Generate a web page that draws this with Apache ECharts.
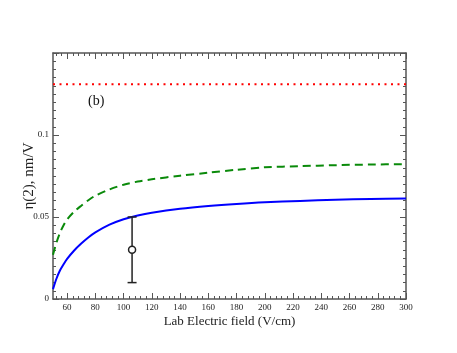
<!DOCTYPE html>
<html>
<head>
<meta charset="utf-8">
<script src="https://cdn.jsdelivr.net/npm/echarts@6/dist/echarts.min.js"></script>
<style>
  html, body { margin: 0; padding: 0; background: #fff; }
  #chart { width: 457px; height: 353px; }
</style>
</head>
<body>
<div id="chart"></div>
<script>
// field values (V/cm)
var fieldX = [50, 52.5, 55, 57.5, 60, 65, 70, 75, 80, 90, 100, 110, 120, 140, 160, 180, 200, 225, 250, 275, 300];
// solid blue curve
var blueY = [0.006, 0.0125, 0.0175, 0.0212, 0.0245, 0.0296, 0.0338, 0.0375, 0.0406, 0.0453, 0.0486, 0.0509, 0.0526, 0.055, 0.0567, 0.058, 0.059, 0.0598, 0.0605, 0.061, 0.0613];
// dashed green curve
var greenY = [0.027, 0.0345, 0.0405, 0.045, 0.0485, 0.0533, 0.0569, 0.0602, 0.063, 0.0668, 0.0697, 0.0716, 0.073, 0.0752, 0.077, 0.0788, 0.0803, 0.081, 0.0816, 0.082, 0.0822];
// dotted red level
var redLevel = 0.131;
// measured point with error bar
var measX = 106;
var measY = 0.03;
var measLow = 0.01;
var measHigh = 0.05;
// tick values
var xMajor = [60, 80, 100, 120, 140, 160, 180, 200, 220, 240, 260, 280, 300];
var xMinor = [];
for (var t = 52; t < 300; t += 4) { if (xMajor.indexOf(t) < 0) xMinor.push(t); }

var axisColor = '#555';
var serif = 'Liberation Serif, Times New Roman, serif';

function zip(xs, ys) {
	return xs.map(function (x, i) { return [x, ys[i]]; });
}

function xAx(pos, ticks, len, showLine, showLabel) {
	return {
		type: 'value', min: 50, max: 300, position: pos,
		axisLine: { show: showLine, onZero: false, lineStyle: { color: axisColor, width: 1.5 } },
		axisTick: { show: true, inside: true, length: len, customValues: ticks, lineStyle: { color: axisColor, width: 1 } },
		axisLabel: { show: showLabel, customValues: ticks, margin: 4, fontFamily: serif, fontSize: 9, color: '#222' },
		splitLine: { show: false }
	};
}

function yAx(pos, showLabel) {
	return {
		type: 'value', min: 0, max: 0.15, interval: 0.05, position: pos,
		axisLine: { show: true, onZero: false, lineStyle: { color: axisColor, width: 1.5 } },
		axisTick: { show: true, inside: true, length: 6, lineStyle: { color: axisColor, width: 1 } },
		minorTick: { show: true, splitNumber: 10, length: 3, lineStyle: { color: axisColor, width: 1 } },
		axisLabel: { show: showLabel, showMaxLabel: false, margin: 4, fontFamily: serif, fontSize: 9, color: '#222' },
		splitLine: { show: false }
	};
}

var xAxes = [
	xAx('bottom', xMajor, 6, true, true),
	xAx('top', xMajor, 6, true, false),
	xAx('bottom', xMinor, 3, false, false),
	xAx('top', xMinor, 3, false, false)
];
xAxes[0].name = 'Lab Electric field (V/cm)';
xAxes[0].nameLocation = 'middle';
xAxes[0].nameGap = 16;
xAxes[0].nameMoveOverlap = false;
xAxes[0].nameTextStyle = { fontFamily: serif, fontSize: 13, color: '#222' };

var yAxes = [yAx('left', true), yAx('right', false)];
yAxes[0].name = 'η(2), nm/V';
yAxes[0].nameLocation = 'middle';
yAxes[0].nameGap = 16;
yAxes[0].nameMoveOverlap = false;
yAxes[0].nameTextStyle = { fontFamily: serif, fontSize: 15, color: '#222' };

var chart = echarts.init(document.getElementById('chart'), null, { renderer: 'canvas' });
chart.setOption({
	animation: false,
	backgroundColor: '#fff',
	grid: { left: 53, right: 51, top: 53, bottom: 54, containLabel: false },
	xAxis: xAxes,
	yAxis: yAxes,
	graphic: [{
		type: 'text', left: 88, top: 94,
		style: { text: '(b)', font: '14px ' + serif, fill: '#111' }
	}],
	series: [
		{
			type: 'line', data: zip(fieldX, blueY), smooth: 0.3, showSymbol: false,
			lineStyle: { color: '#0000ff', width: 2 }, z: 3
		},
		{
			type: 'line', data: zip(fieldX, greenY), smooth: 0.3, showSymbol: false,
			lineStyle: { color: '#0a8a0a', width: 2, type: [8, 5] }, z: 3
		},
		{
			type: 'line', data: [[50, redLevel], [300, redLevel]], showSymbol: false,
			lineStyle: { color: '#ff0000', width: 2, type: [2, 4.5] }, z: 3
		},
		{
			type: 'custom',
			data: [[measX, measY, measLow, measHigh]],
			renderItem: function (params, api) {
				var top = api.coord([api.value(0), api.value(3)]);
				var bot = api.coord([api.value(0), api.value(2)]);
				var mid = api.coord([api.value(0), api.value(1)]);
				var st = { stroke: '#222', lineWidth: 1.5, fill: null };
				return {
					type: 'group',
					children: [
						{ type: 'line', shape: { x1: top[0], y1: top[1], x2: bot[0], y2: bot[1] }, style: st },
						{ type: 'line', shape: { x1: top[0] - 4.5, y1: top[1], x2: top[0] + 4.5, y2: top[1] }, style: st },
						{ type: 'line', shape: { x1: bot[0] - 4.5, y1: bot[1], x2: bot[0] + 4.5, y2: bot[1] }, style: st },
						{ type: 'circle', shape: { cx: mid[0], cy: mid[1], r: 3.5 }, style: { stroke: '#222', lineWidth: 1.5, fill: '#fff' } }
					]
				};
			},
			z: 4
		}
	]
});
</script>
</body>
</html>
